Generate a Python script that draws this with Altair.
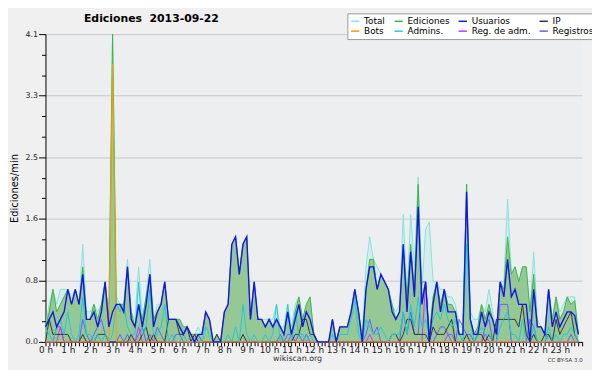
import altair as alt
import pandas as pd

# ---- data (values per 10-minute slot, 144 slots) ----
series_names = ["Total", "Ediciones", "Usuarios", "IP", "Bots", "Admins.", "Reg. de adm.", "Registros"]
series_colors = ["#86e2e0", "#3fb43f", "#1515e6", "#333333", "#ff9900", "#22c8d6", "#cc33ff", "#6060ff"]

total = [
    0.2, 0.5, 0.7, 0.5, 0.7, 0.7,  0.7, 0.6, 0.7, 0.5, 1.3, 0.4,
    0.4, 0.5, 0.4, 0.5, 0.8, 0.3,  4.1, 0.6, 0.5, 0.5, 1.1, 0.4,
    0.3, 1.0, 0.3, 0.6, 1.1, 0.3,  0.5, 0.5, 0.8, 0.3, 0.3, 0.3,
    0.3, 0.2, 0.2, 0.1, 0.1, 0.2,  0.1, 0.4, 0.3, 0.0, 0.1, 0.0,
    0.4, 0.5, 1.3, 1.4, 0.9, 1.3,  1.4, 0.3, 0.8, 0.3, 0.3, 0.3,
    0.3, 0.3, 0.5, 0.2, 0.2, 0.5,  0.2, 0.5, 0.6, 0.3, 0.5, 0.6,
    0.1, 0.0, 0.0, 0.0, 0.0, 0.3,  0.0, 0.2, 0.2, 0.2, 0.4, 0.7,
    0.4, 0.1, 1.0, 1.4, 1.1, 1.0,  0.9, 0.8, 0.7, 0.5, 0.4, 0.5,
    1.7, 0.6, 1.7, 1.0, 2.2, 0.7,  1.5, 1.6, 0.8, 0.8, 0.7, 0.7,
    0.6, 0.6, 0.5, 0.2, 0.2, 2.1,  0.4, 0.3, 0.3, 0.5, 0.4, 0.7,
    0.4, 0.2, 0.8, 0.8, 1.9, 0.9,  1.0, 0.8, 1.0, 1.0, 0.4, 1.2,
    0.3, 0.2, 0.1, 0.7, 0.3, 0.6,  0.4, 0.5, 0.6, 0.6, 0.6, 0.1,
]
ediciones = [
    0.2, 0.4, 0.7, 0.4, 0.5, 0.6,  0.7, 0.5, 0.7, 0.5, 1.0, 0.3,
    0.3, 0.5, 0.3, 0.5, 0.8, 0.3,  4.1, 0.5, 0.5, 0.5, 1.0, 0.4,
    0.2, 0.5, 0.3, 0.6, 0.9, 0.3,  0.4, 0.5, 0.8, 0.3, 0.3, 0.3,
    0.3, 0.2, 0.2, 0.1, 0.1, 0.1,  0.1, 0.4, 0.3, 0.0, 0.1, 0.0,
    0.4, 0.5, 1.3, 1.4, 0.9, 1.3,  1.4, 0.3, 0.8, 0.3, 0.3, 0.2,
    0.3, 0.2, 0.3, 0.2, 0.1, 0.4,  0.1, 0.4, 0.6, 0.3, 0.5, 0.6,
    0.1, 0.0, 0.0, 0.0, 0.0, 0.3,  0.0, 0.2, 0.2, 0.2, 0.4, 0.7,
    0.4, 0.0, 0.7, 1.1, 1.1, 0.7,  0.9, 0.8, 0.7, 0.5, 0.3, 0.4,
    1.3, 0.6, 1.3, 0.7, 2.1, 0.6,  0.8, 0.1, 0.6, 0.8, 0.5, 0.7,
    0.5, 0.5, 0.4, 0.1, 0.1, 2.1,  0.3, 0.1, 0.2, 0.5, 0.3, 0.5,
    0.3, 0.1, 0.8, 0.7, 1.4, 0.9,  1.0, 0.8, 1.0, 1.0, 0.4, 0.9,
    0.2, 0.2, 0.1, 0.7, 0.3, 0.6,  0.3, 0.4, 0.6, 0.5, 0.55, 0.1,
]
usuarios = [
    0.2, 0.3, 0.4, 0.2, 0.3, 0.4,  0.7, 0.5, 0.7, 0.5, 0.9, 0.3,
    0.3, 0.4, 0.2, 0.4, 0.8, 0.2,  0.4, 0.5, 0.5, 0.4, 1.0, 0.3,
    0.2, 0.5, 0.2, 0.5, 0.9, 0.2,  0.4, 0.5, 0.8, 0.3, 0.3, 0.3,
    0.2, 0.1, 0.2, 0.1, 0.0, 0.1,  0.1, 0.4, 0.3, 0.0, 0.0, 0.0,
    0.4, 0.5, 1.3, 1.4, 0.9, 1.3,  1.4, 0.3, 0.8, 0.3, 0.3, 0.2,
    0.3, 0.2, 0.3, 0.2, 0.1, 0.4,  0.1, 0.3, 0.5, 0.2, 0.4, 0.3,
    0.1, 0.0, 0.0, 0.0, 0.0, 0.3,  0.0, 0.2, 0.2, 0.2, 0.4, 0.7,
    0.4, 0.0, 0.7, 1.0, 1.0, 0.7,  0.9, 0.8, 0.7, 0.4, 0.3, 0.4,
    1.3, 0.4, 1.2, 0.6, 1.8, 0.5,  0.8, 0.0, 0.5, 0.8, 0.4, 0.7,
    0.4, 0.4, 0.4, 0.1, 0.1, 2.0,  0.3, 0.1, 0.1, 0.4, 0.2, 0.4,
    0.3, 0.1, 0.8, 0.6, 1.1, 0.6,  0.7, 0.5, 0.5, 0.5, 0.0, 0.7,
    0.2, 0.2, 0.1, 0.7, 0.2, 0.4,  0.2, 0.3, 0.4, 0.4, 0.35, 0.1,
]
ip = [
    0.0, 0.3, 0.1, 0.1, 0.1, 0.1,  0.1, 0.0, 0.0, 0.0, 0.1, 0.0,
    0.0, 0.0, 0.1, 0.1, 0.1, 0.0,  0.0, 0.0, 0.0, 0.0, 0.0, 0.1,
    0.0, 0.0, 0.1, 0.2, 0.0, 0.1,  0.0, 0.0, 0.0, 0.3, 0.3, 0.3,
    0.1, 0.1, 0.2, 0.0, 0.1, 0.0,  0.0, 0.0, 0.0, 0.0, 0.1, 0.0,
    0.0, 0.0, 0.0, 0.0, 0.0, 0.1,  0.0, 0.0, 0.0, 0.0, 0.0, 0.0,
    0.0, 0.0, 0.0, 0.0, 0.0, 0.0,  0.0, 0.1, 0.1, 0.3, 0.3, 0.1,
    0.1, 0.0, 0.0, 0.0, 0.0, 0.0,  0.0, 0.0, 0.0, 0.0, 0.0, 0.0,
    0.0, 0.0, 0.0, 0.0, 0.0, 0.0,  0.0, 0.0, 0.0, 0.1, 0.1, 0.0,
    0.1, 0.3, 0.3, 0.1, 0.1, 0.1,  0.1, 0.0, 0.2, 0.1, 0.1, 0.1,
    0.2, 0.3, 0.0, 0.0, 0.0, 0.1,  0.0, 0.0, 0.1, 0.1, 0.0, 0.1,
    0.0, 0.3, 0.3, 0.3, 0.3, 0.3,  0.3, 0.2, 0.5, 0.1, 0.0, 0.1,
    0.0, 0.0, 0.1, 0.1, 0.0, 0.3,  0.1, 0.2, 0.3, 0.4, 0.1, 0.0,
]
bots = [
    0.0, 0.0, 0.0, 0.0, 0.0, 0.0,  0.0, 0.0, 0.0, 0.0, 0.0, 0.0,
    0.0, 0.0, 0.0, 0.0, 0.0, 0.0,  3.7, 0.0, 0.0, 0.0, 0.0, 0.0,
    0.0, 0.0, 0.0, 0.0, 0.0, 0.0,  0.0, 0.0, 0.0, 0.0, 0.0, 0.0,
    0.0, 0.0, 0.0, 0.0, 0.0, 0.0,  0.0, 0.0, 0.0, 0.0, 0.0, 0.0,
    0.0, 0.0, 0.0, 0.0, 0.0, 0.0,  0.0, 0.0, 0.0, 0.0, 0.0, 0.0,
    0.0, 0.0, 0.0, 0.0, 0.0, 0.0,  0.0, 0.0, 0.0, 0.0, 0.0, 0.0,
    0.0, 0.0, 0.0, 0.0, 0.0, 0.0,  0.0, 0.0, 0.0, 0.0, 0.0, 0.0,
    0.0, 0.0, 0.0, 0.0, 0.0, 0.0,  0.0, 0.0, 0.0, 0.0, 0.0, 0.0,
    0.0, 0.0, 0.0, 0.0, 0.0, 0.0,  0.0, 0.0, 0.0, 0.0, 0.0, 0.0,
    0.0, 0.0, 0.0, 0.0, 0.0, 0.0,  0.0, 0.0, 0.0, 0.0, 0.0, 0.0,
    0.0, 0.0, 0.0, 0.0, 0.0, 0.0,  0.0, 0.0, 0.0, 0.0, 0.0, 0.0,
    0.0, 0.0, 0.0, 0.0, 0.0, 0.0,  0.0, 0.0, 0.0, 0.0, 0.0, 0.0,
]
admins = [
    0.2, 0.1, 0.0, 0.2, 0.3, 0.1,  0.4, 0.1, 0.0, 0.1, 0.6, 0.1,
    0.1, 0.0, 0.1, 0.0, 0.1, 0.0,  0.1, 0.5, 0.4, 0.5, 0.2, 0.1,
    0.1, 0.8, 0.1, 0.2, 0.7, 0.1,  0.1, 0.2, 0.5, 0.0, 0.1, 0.0,
    0.0, 0.1, 0.0, 0.0, 0.0, 0.0,  0.0, 0.2, 0.1, 0.0, 0.0, 0.0,
    0.0, 0.1, 0.0, 0.2, 0.0, 0.5,  0.1, 0.0, 0.1, 0.0, 0.0, 0.1,
    0.0, 0.1, 0.5, 0.0, 0.1, 0.5,  0.0, 0.4, 0.1, 0.1, 0.0, 0.1,
    0.0, 0.0, 0.0, 0.0, 0.0, 0.1,  0.0, 0.1, 0.1, 0.1, 0.3, 0.6,
    0.1, 0.0, 0.3, 0.2, 0.1, 0.1,  0.2, 0.1, 0.0, 0.1, 0.1, 0.1,
    0.4, 0.1, 0.5, 0.2, 0.6, 0.2,  0.3, 0.1, 0.3, 0.4, 0.3, 0.5,
    0.3, 0.2, 0.3, 0.1, 0.0, 1.3,  0.3, 0.0, 0.1, 0.2, 0.1, 0.1,
    0.0, 0.0, 0.2, 0.3, 0.4, 0.1,  0.1, 0.0, 0.3, 0.0, 0.0, 0.2,
    0.0, 0.0, 0.0, 0.2, 0.0, 0.1,  0.0, 0.1, 0.1, 0.2, 0.1, 0.0,
]
reg_adm = [
    0.0, 0.0, 0.0, 0.0, 0.2, 0.0,  0.0, 0.0, 0.0, 0.0, 0.0, 0.0,
    0.0, 0.0, 0.0, 0.0, 0.0, 0.0,  0.0, 0.0, 0.0, 0.0, 0.0, 0.0,
    0.0, 0.2, 0.0, 0.0, 0.0, 0.0,  0.0, 0.0, 0.0, 0.0, 0.0, 0.0,
    0.0, 0.0, 0.0, 0.0, 0.0, 0.0,  0.0, 0.0, 0.0, 0.0, 0.0, 0.0,
    0.0, 0.0, 0.0, 0.0, 0.0, 0.0,  0.0, 0.0, 0.0, 0.0, 0.0, 0.0,
    0.0, 0.0, 0.0, 0.0, 0.0, 0.0,  0.1, 0.0, 0.0, 0.0, 0.0, 0.0,
    0.0, 0.0, 0.0, 0.0, 0.0, 0.0,  0.0, 0.0, 0.0, 0.0, 0.0, 0.0,
    0.0, 0.0, 0.0, 0.1, 0.0, 0.0,  0.0, 0.0, 0.0, 0.0, 0.0, 0.0,
    0.0, 0.0, 0.0, 0.0, 0.0, 0.0,  0.8, 0.0, 0.0, 0.0, 0.0, 0.0,
    0.1, 0.0, 0.0, 0.0, 0.0, 0.0,  0.0, 0.0, 0.0, 0.0, 0.1, 0.0,
    0.0, 0.0, 0.0, 0.0, 0.0, 0.0,  0.0, 0.0, 0.0, 0.0, 0.0, 0.0,
    0.0, 0.0, 0.0, 0.0, 0.0, 0.0,  0.0, 0.0, 0.0, 0.0, 0.0, 0.0,
]
registros = [
    0.0, 0.0, 0.0, 0.2, 0.2, 0.0,  0.0, 0.0, 0.0, 0.0, 0.3, 0.1,
    0.0, 0.1, 0.2, 0.3, 0.1, 0.0,  0.0, 0.0, 0.1, 0.0, 0.1, 0.0,
    0.0, 0.1, 0.2, 0.0, 0.1, 0.0,  0.2, 0.1, 0.0, 0.0, 0.0, 0.1,
    0.1, 0.0, 0.0, 0.0, 0.0, 0.1,  0.0, 0.0, 0.0, 0.0, 0.0, 0.0,
    0.0, 0.0, 0.0, 0.0, 0.0, 0.0,  0.0, 0.0, 0.0, 0.0, 0.0, 0.0,
    0.0, 0.0, 0.0, 0.1, 0.0, 0.1,  0.1, 0.0, 0.1, 0.0, 0.1, 0.0,
    0.0, 0.0, 0.0, 0.0, 0.0, 0.0,  0.0, 0.0, 0.0, 0.0, 0.0, 0.0,
    0.0, 0.0, 0.1, 0.3, 0.1, 0.2,  0.0, 0.0, 0.0, 0.0, 0.0, 0.0,
    0.4, 0.1, 0.4, 0.1, 0.1, 0.8,  0.8, 0.0, 0.0, 0.1, 0.2, 0.2,
    0.1, 0.1, 0.0, 0.3, 0.2, 0.1,  0.1, 0.0, 0.0, 0.0, 0.2, 0.3,
    0.0, 0.0, 0.5, 0.5, 0.5, 0.0,  0.0, 0.0, 0.0, 0.0, 0.3, 0.2,
    0.0, 0.0, 0.0, 0.1, 0.0, 0.0,  0.0, 0.0, 0.0, 0.1, 0.0, 0.0,
]

slots_per_hour = 6
hours = [i / slots_per_hour for i in range(len(total))]
x_ticks = [k / slots_per_hour for k in range(24 * slots_per_hour + 1)]
y_max = 4.1
y_ticks = [round(k * y_max / 15, 6) for k in range(16)]

# draw order of the lines (legend order is series_names)
draw_order = [
    ("Total", total), ("Ediciones", ediciones), ("Registros", registros),
    ("Reg. de adm.", reg_adm), ("IP", ip), ("Admins.", admins),
    ("Bots", bots), ("Usuarios", usuarios),
]
rows = []
for name, vals in draw_order:
    for h, v in zip(hours, vals):
        rows.append({"hora": h, "valor": v, "serie": name})
df = pd.DataFrame(rows)

FONT = "DejaVu Sans"
major = "abs(datum.value / 0.82 - round(datum.value / 0.82)) < 0.001"

xscale = alt.Scale(domain=[0, 24], nice=False, zero=False)
yscale = alt.Scale(domain=[0, y_max], nice=False)

yaxis = alt.Axis(
    values=y_ticks,
    labelExpr=f"({major}) ? format(datum.value, '.1f') : ''",
    tickSize={"condition": {"test": major, "value": 7}, "value": 4},
    gridOpacity={"condition": {"test": major, "value": 1}, "value": 0},
    gridColor="#c8c8c8", gridWidth=1,
    domainColor="black", tickColor="black",
    labelFont=FONT, labelFontSize=8, labelColor="#222", labelPadding=1,
    labelOverlap=False,
    titleFont=FONT, titleFontSize=10, titleFontWeight="normal", titleColor="black",
    titleX=-31, titleY=156, titleBaseline="middle",
)
y_enc = alt.Y("valor:Q", scale=yscale, axis=yaxis, title="Ediciones/min")

xaxis_main = alt.Axis(
    orient="bottom",
    values=x_ticks,
    labelExpr="(datum.value % 1 == 0 && datum.value < 24) ? format(datum.value, 'd') + ' h' : ''",
    labelFlush=False, labelOverlap=False,
    tickSize=4, tickColor="black", domainColor="black", grid=False,
    labelFont=FONT, labelFontSize=9, labelColor="#222", labelPadding=0,
    titleFont=FONT, titleFontSize=8, titleFontWeight="normal", titleColor="#333",
    titleX=255, titleY=17, titleBaseline="middle", titleAlign="center",
)
xaxis_cc = alt.Axis(
    orient="bottom", domain=False, ticks=False, labels=False, grid=False,
    titleFont=FONT, titleFontSize=5.5, titleFontWeight="normal", titleColor="#333",
    titleX=544, titleY=18, titleBaseline="middle", titleAlign="right",
)

base = alt.Chart(df)

area_total = base.transform_filter(alt.datum.serie == "Total").mark_area(
    fill="#cdeee9", fillOpacity=0.75
).encode(
    x=alt.X("hora:Q", scale=xscale, axis=xaxis_cc, title="CC BY-SA 3.0"),
    y=y_enc,
)

area_ed = base.transform_filter(alt.datum.serie == "Ediciones").mark_area(
    fill="#96c896"
).encode(
    x=alt.X("hora:Q", scale=xscale, axis=None),
    y=y_enc,
)

lines = base.mark_line().encode(
    x=alt.X("hora:Q", scale=xscale, axis=xaxis_main, title="wikiscan.org"),
    y=y_enc,
    color=alt.Color(
        "serie:N",
        scale=alt.Scale(domain=series_names, range=series_colors),
        legend=alt.Legend(
            title=None, orient="none", legendX=306, legendY=-21, columns=4,
            direction="horizontal",
            fillColor="white", strokeColor="#9a9a9a", padding=3,
            symbolType="stroke", symbolSize=70, symbolStrokeWidth=1.5,
            labelFont=FONT, labelFontSize=9, labelColor="black",
            columnPadding=5, rowPadding=0, labelOffset=4, gridAlign="each",
        ),
    ),
    strokeWidth=alt.condition(alt.datum.serie == "Usuarios", alt.value(1.4), alt.value(1.0)),
)

chart = alt.layer(area_total, area_ed, lines).resolve_axis(x="independent").properties(
    width=544,
    height=312,
    autosize=alt.AutoSizeParams(type="none"),
    padding={"left": 38, "top": 24, "right": 10, "bottom": 26},
    background="#f0f0f0",
    title=alt.TitleParams(
        text="Ediciones\u00a0 2013-09-22", anchor="start", frame="group",
        dx=39, offset=-20, font=FONT, fontSize=11, fontWeight="bold",
        color="black", baseline="alphabetic",
    ),
).configure_view(fill="#edeef0", strokeWidth=0)

chart.save("out.html", embed_options={"renderer": "svg", "actions": False})
